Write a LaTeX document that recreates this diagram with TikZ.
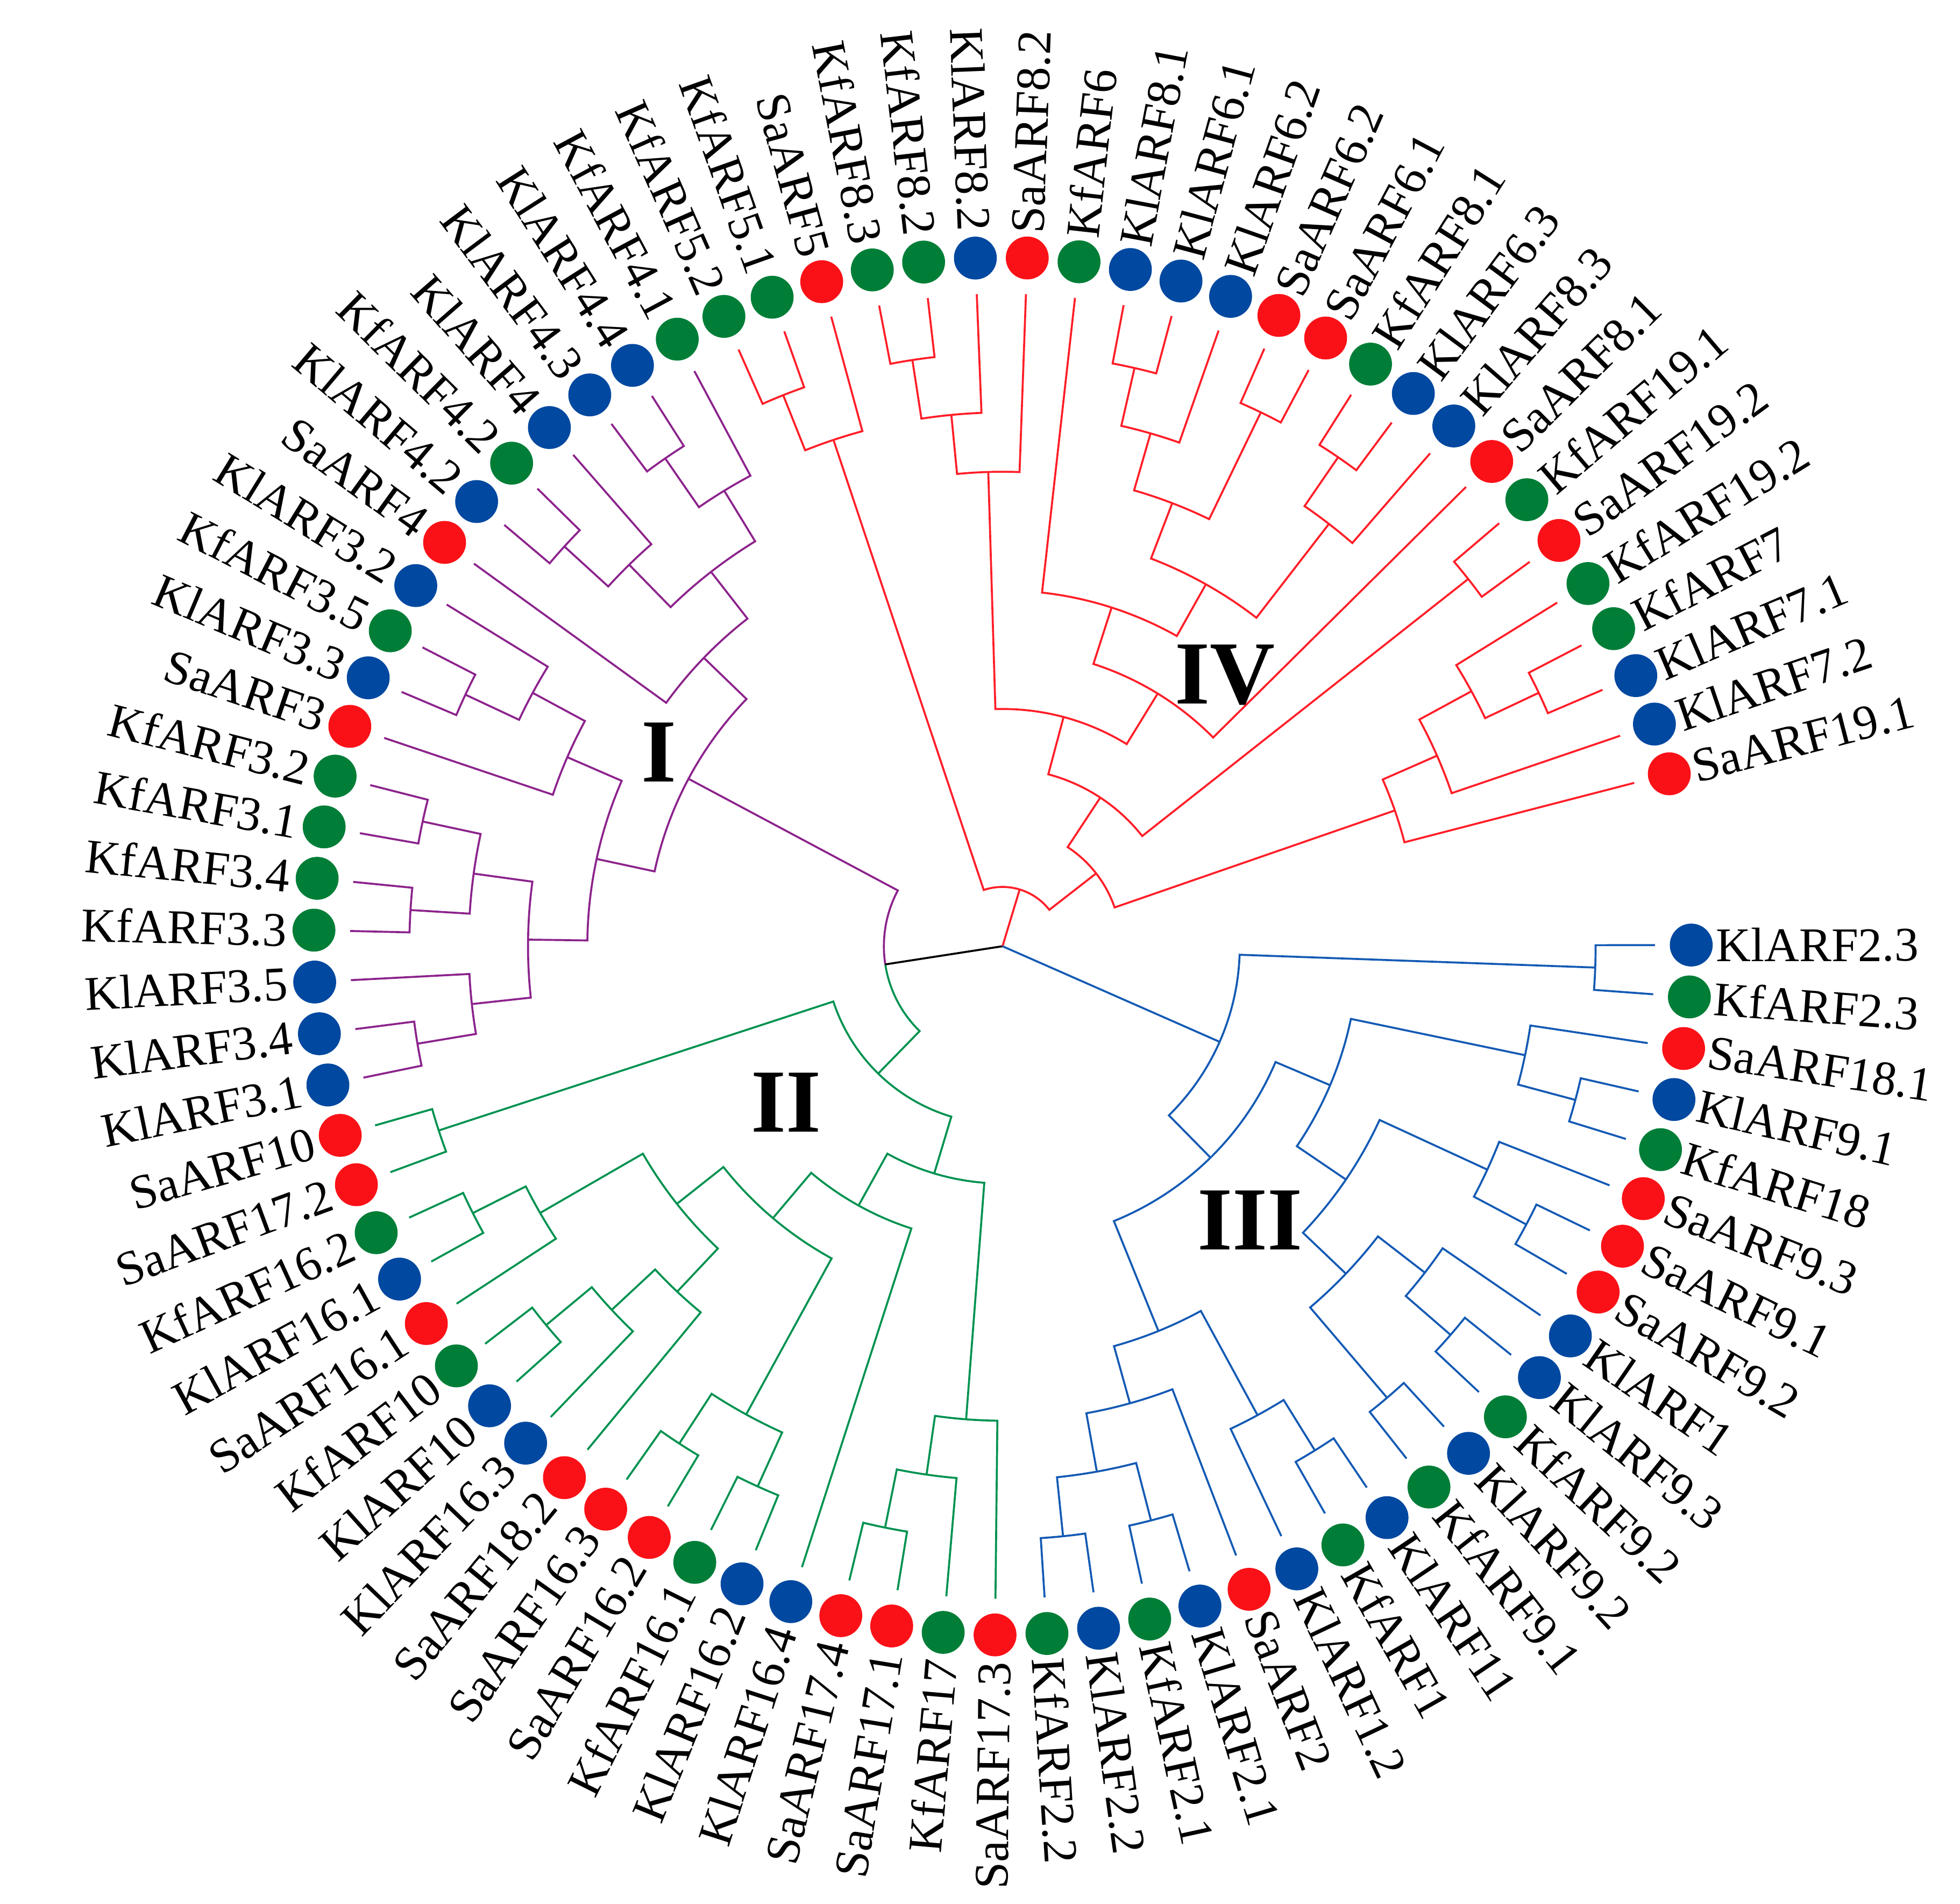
\documentclass[tikz,border=0pt]{standalone}
\usepackage{fontspec}
\setmainfont{Liberation Serif}

\definecolor{sared}{RGB}{250,17,23}
\definecolor{kfgreen}{RGB}{0,126,55}
\definecolor{klblue}{RGB}{0,72,160}
\definecolor{treered}{RGB}{255,30,40}
\definecolor{treegreen}{RGB}{0,146,80}
\definecolor{treeblue}{RGB}{20,90,180}
\definecolor{treepurple}{RGB}{140,35,140}

% radius step between two tree levels (cm), root is level 11
\newcommand\lvl{0.4745}
% join two children #3 and #4 into clade #1 at height #2
\newcommand\mkclade[5]{%
  \pgfmathsetmacro\angA{\csname ang@#3\endcsname}%
  \pgfmathsetmacro\angB{\csname ang@#4\endcsname}%
  \pgfmathsetmacro\crad{\lvl*(11-#2)}%
  \pgfmathsetmacro\cang{(\angA+\angB)/2}%
  \expandafter\xdef\csname ang@#1\endcsname{\cang}%
  \coordinate (#1) at (\cang:\crad);
  \draw[#5] (#3) -- (\angA:\crad) arc[start angle=\angA, end angle=\angB, radius=\crad] -- (#4);
}

\begin{document}
\begin{tikzpicture}[line width=0.45pt,
    dot/.style={circle, inner sep=0pt, minimum size=0.343cm},
    lbl/.style={inner sep=0pt, font=\fontsize{11}{13}\selectfont},
    numeral/.style={inner sep=0pt, font=\fontsize{20.5}{24}\selectfont\bfseries}]
    \useasboundingbox (-8.02,-7.66) rectangle (7.66,7.57);

    % Leaves (81 genes, clockwise from KlARF2.3)
    \foreach \i/\gene/\col in {0/KlARF2.3/klblue, 1/KfARF2.3/kfgreen, 2/SaARF18.1/sared,
        3/KlARF9.1/klblue, 4/KfARF18/kfgreen, 5/SaARF9.3/sared, 6/SaARF9.1/sared,
        7/SaARF9.2/sared, 8/KlARF1/klblue, 9/KlARF9.3/klblue, 10/KfARF9.2/kfgreen,
        11/KlARF9.2/klblue, 12/KfARF9.1/kfgreen, 13/KlARF11/klblue, 14/KfARF1/kfgreen,
        15/KlARF1.2/klblue, 16/SaARF2/sared, 17/KlARF2.1/klblue, 18/KfARF2.1/kfgreen,
        19/KlARF2.2/klblue, 20/KfARF2.2/kfgreen, 21/SaARF17.3/sared, 22/KfARF17/kfgreen,
        23/SaARF17.1/sared, 24/SaARF17.4/sared, 25/KlARF16.4/klblue, 26/KlARF16.2/klblue,
        27/KfARF16.1/kfgreen, 28/SaARF16.2/sared, 29/SaARF16.3/sared, 30/SaARF18.2/sared,
        31/KlARF16.3/klblue, 32/KlARF10/klblue, 33/KfARF10/kfgreen, 34/SaARF16.1/sared,
        35/KlARF16.1/klblue, 36/KfARF16.2/kfgreen, 37/SaARF17.2/sared, 38/SaARF10/sared,
        39/KlARF3.1/klblue, 40/KlARF3.4/klblue, 41/KlARF3.5/klblue, 42/KfARF3.3/kfgreen,
        43/KfARF3.4/kfgreen, 44/KfARF3.1/kfgreen, 45/KfARF3.2/kfgreen, 46/SaARF3/sared,
        47/KlARF3.3/klblue, 48/KfARF3.5/kfgreen, 49/KlARF3.2/klblue, 50/SaARF4/sared,
        51/KlARF4.2/klblue, 52/KfARF4.2/kfgreen, 53/KlARF4/klblue, 54/KlARF4.3/klblue,
        55/KlARF4.4/klblue, 56/KfARF4.1/kfgreen, 57/KfARF5.2/kfgreen, 58/KfARF5.1/kfgreen,
        59/SaARF5/sared, 60/KfARF8.3/kfgreen, 61/KfARF8.2/kfgreen, 62/KlARF8.2/klblue,
        63/SaARF8.2/sared, 64/KfARF6/kfgreen, 65/KlARF8.1/klblue, 66/KlARF6.1/klblue,
        67/KlARF6.2/klblue, 68/SaARF6.2/sared, 69/SaARF6.1/sared, 70/KfARF8.1/kfgreen,
        71/KlARF6.3/klblue, 72/KlARF8.3/klblue, 73/SaARF8.1/sared, 74/KfARF19.1/kfgreen,
        75/SaARF19.2/sared, 76/KfARF19.2/kfgreen, 77/KfARF7/kfgreen, 78/KlARF7.1/klblue,
        79/KlARF7.2/klblue, 80/SaARF19.1/sared} {
        \pgfmathsetmacro\ang{0.1-4.32*\i}
        \expandafter\xdef\csname ang@L\i\endcsname{\ang}
        \coordinate (L\i) at (\ang:5.22);
        \node[dot, fill=\col] (d\i) at (\ang:5.51) {};
        \pgfmathtruncatemacro\lft{cos(\ang)<0}
        \ifnum\lft=1
            \node[lbl, anchor=east, rotate=\ang+180] (g\i) at (\ang:5.72) {\gene};
        \else
            \node[lbl, anchor=west, rotate=\ang] (g\i) at (\ang:5.70) {\gene};
        \fi
    }

    % Group IV
    \mkclade{n57}{1}{L57}{L58}{treered}
    \mkclade{n59}{2}{n57}{L59}{treered}
    \mkclade{n60}{1}{L60}{L61}{treered}
    \mkclade{n62}{2}{n60}{L62}{treered}
    \mkclade{n63}{3}{n62}{L63}{treered}
    \mkclade{n65}{1}{L65}{L66}{treered}
    \mkclade{n67}{2}{n65}{L67}{treered}
    \mkclade{n68}{1}{L68}{L69}{treered}
    \mkclade{n66}{3}{n67}{n68}{treered}
    \mkclade{n70}{1}{L70}{L71}{treered}
    \mkclade{n72}{2}{n70}{L72}{treered}
    \mkclade{n71}{4}{n66}{n72}{treered}
    \mkclade{n64}{5}{L64}{n71}{treered}
    \mkclade{n73}{6}{n64}{L73}{treered}
    \mkclade{n61}{7}{n63}{n73}{treered}
    \mkclade{n74}{1}{L74}{L75}{treered}
    \mkclade{n75}{8}{n61}{n74}{treered}
    \mkclade{n77}{1}{L77}{L78}{treered}
    \mkclade{n76}{2}{L76}{n77}{treered}
    \mkclade{n79}{3}{n76}{L79}{treered}
    \mkclade{n80}{4}{n79}{L80}{treered}
    \mkclade{n78}{9}{n75}{n80}{treered}
    \mkclade{cIV}{10}{n59}{n78}{treered}

    % Group III
    \mkclade{m0}{1}{L0}{L1}{treeblue}
    \mkclade{m3}{1}{L3}{L4}{treeblue}
    \mkclade{m2}{2}{L2}{m3}{treeblue}
    \mkclade{m6}{1}{L6}{L7}{treeblue}
    \mkclade{m5}{2}{L5}{m6}{treeblue}
    \mkclade{m9}{1}{L9}{L10}{treeblue}
    \mkclade{m8}{2}{L8}{m9}{treeblue}
    \mkclade{m11}{1}{L11}{L12}{treeblue}
    \mkclade{m10}{3}{m8}{m11}{treeblue}
    \mkclade{m7}{4}{m5}{m10}{treeblue}
    \mkclade{m4}{5}{m2}{m7}{treeblue}
    \mkclade{m13}{1}{L13}{L14}{treeblue}
    \mkclade{m15}{2}{m13}{L15}{treeblue}
    \mkclade{m17}{1}{L17}{L18}{treeblue}
    \mkclade{m19}{1}{L19}{L20}{treeblue}
    \mkclade{m18}{2}{m17}{m19}{treeblue}
    \mkclade{m16}{3}{L16}{m18}{treeblue}
    \mkclade{m14}{4}{m15}{m16}{treeblue}
    \mkclade{m12}{6}{m4}{m14}{treeblue}
    \mkclade{cIII}{7}{m0}{m12}{treeblue}

    % Group II
    \mkclade{k23}{1}{L23}{L24}{treegreen}
    \mkclade{k22}{2}{L22}{k23}{treegreen}
    \mkclade{k21}{3}{L21}{k22}{treegreen}
    \mkclade{k26}{1}{L26}{L27}{treegreen}
    \mkclade{k28}{1}{L28}{L29}{treegreen}
    \mkclade{k27}{2}{k26}{k28}{treegreen}
    \mkclade{k32}{1}{L32}{L33}{treegreen}
    \mkclade{k31}{2}{L31}{k32}{treegreen}
    \mkclade{k30}{3}{L30}{k31}{treegreen}
    \mkclade{k35}{1}{L35}{L36}{treegreen}
    \mkclade{k34}{2}{L34}{k35}{treegreen}
    \mkclade{k33}{4}{k30}{k34}{treegreen}
    \mkclade{k29}{5}{k27}{k33}{treegreen}
    \mkclade{k25}{6}{L25}{k29}{treegreen}
    \mkclade{k24}{7}{k21}{k25}{treegreen}
    \mkclade{k37}{1}{L37}{L38}{treegreen}
    \mkclade{cII}{8}{k24}{k37}{treegreen}

    % Group I
    \mkclade{j39}{1}{L39}{L40}{treepurple}
    \mkclade{j41}{2}{j39}{L41}{treepurple}
    \mkclade{j42}{1}{L42}{L43}{treepurple}
    \mkclade{j44}{1}{L44}{L45}{treepurple}
    \mkclade{j43}{2}{j42}{j44}{treepurple}
    \mkclade{j40}{3}{j41}{j43}{treepurple}
    \mkclade{j47}{1}{L47}{L48}{treepurple}
    \mkclade{j49}{2}{j47}{L49}{treepurple}
    \mkclade{j46}{3}{L46}{j49}{treepurple}
    \mkclade{j45}{4}{j40}{j46}{treepurple}
    \mkclade{j51}{1}{L51}{L52}{treepurple}
    \mkclade{j53}{2}{j51}{L53}{treepurple}
    \mkclade{j54}{1}{L54}{L55}{treepurple}
    \mkclade{j56}{2}{j54}{L56}{treepurple}
    \mkclade{j55}{3}{j53}{j56}{treepurple}
    \mkclade{j50}{4}{L50}{j55}{treepurple}
    \mkclade{cI}{5}{j45}{j50}{treepurple}

    % Groups I and II meet, then the root
    \pgfmathsetmacro\angI{\csname ang@cI\endcsname}
    \pgfmathsetmacro\angII{\csname ang@cII\endcsname}
    \pgfmathsetmacro\angJ{(\angI+\angII)/2}
    \coordinate (root) at (0,0);
    \coordinate (cA) at (\angJ:0.949);
    \draw[treepurple] (cI) -- (\angI:0.949) arc[start angle=\angI, end angle=\angJ, radius=0.949];
    \draw[treegreen] (cII) -- (\angII:0.949) arc[start angle=\angII, end angle=\angJ, radius=0.949];
    \draw (root) -- (cA);
    \draw[treered] (root) -- (cIV);
    \draw[treeblue] (root) -- (cIII);

    % Group numbers
    \node[numeral] (numI) at (-2.75,1.55) {I};
    \node[numeral] (numII) at (-1.73,-1.25) {II};
    \node[numeral] (numIII) at (1.98,-2.19) {III};
    \node[numeral] (numIV) at (1.78,2.17) {IV};
\end{tikzpicture}
\end{document}
